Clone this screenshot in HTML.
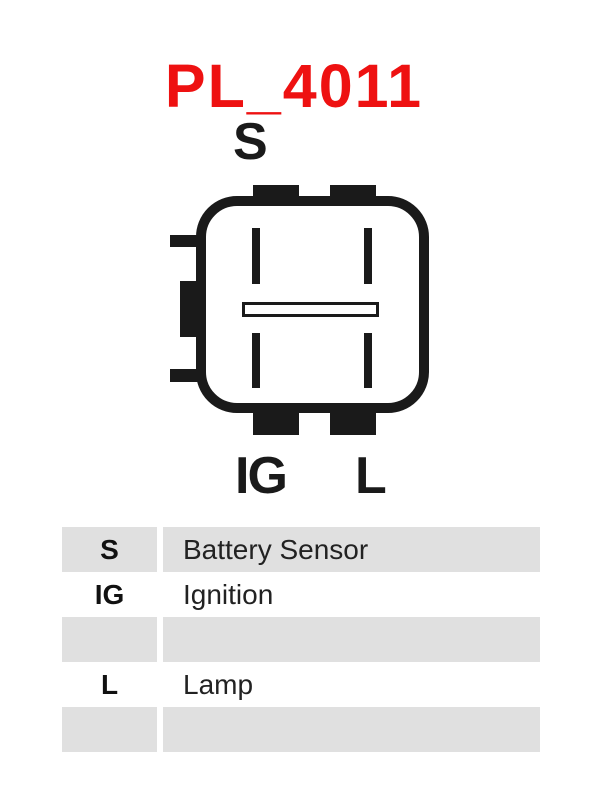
<!DOCTYPE html>
<html><head><style>
body{margin:0;width:600px;height:800px;background:#fff;position:relative;font-family:"Liberation Sans",sans-serif;overflow:hidden}
.t{position:absolute;white-space:nowrap}
.r{position:absolute;left:62px;width:478px;height:45px}
.c1{position:absolute;left:0;width:95px;height:45px;text-align:center;font-weight:bold;font-size:28px;line-height:45px;color:#111}
.c2{position:absolute;left:101px;width:377px;height:45px;font-size:28px;line-height:45px;color:#222;padding-left:20px;box-sizing:border-box}
.g .c1,.g .c2{background:#e0e0e0}
</style></head><body>
<div class="t" style="left:0;width:588px;text-align:center;top:51px;font-size:61px;letter-spacing:2px;font-weight:bold;color:#ee1111;line-height:70px">PL_4011</div>
<div class="t" style="left:233px;top:112px;font-size:52px;font-weight:bold;color:#1a1a1a;line-height:60px">S</div>
<div class="t" style="left:235px;top:446px;font-size:52px;font-weight:bold;color:#1a1a1a;line-height:60px;letter-spacing:-2px">IG</div>
<div class="t" style="left:355px;top:446px;font-size:52px;font-weight:bold;color:#1a1a1a;line-height:60px">L</div>
<svg style="position:absolute;left:0;top:0" width="600" height="800">
<g fill="#1a1a1a">
<rect x="253" y="185" width="46" height="16"/><rect x="330" y="185" width="46" height="16"/>
<rect x="253" y="408" width="46" height="27"/><rect x="330" y="408" width="46" height="27"/>
<rect x="170" y="235" width="32" height="12"/><rect x="170" y="369" width="32" height="13"/>
<rect x="180" y="281" width="22" height="56"/>
<rect x="252" y="228" width="8" height="56"/><rect x="252" y="333" width="8" height="55"/>
<rect x="364" y="228" width="8" height="56"/><rect x="364" y="333" width="8" height="55"/>
</g>
<rect x="201" y="201" width="223" height="207" rx="36" fill="none" stroke="#1a1a1a" stroke-width="10"/>
<rect x="243.5" y="303.5" width="134" height="12" fill="#fff" stroke="#1a1a1a" stroke-width="3"/>
</svg>
<div class="r g" style="top:527px"><div class="c1">S</div><div class="c2">Battery Sensor</div></div>
<div class="r" style="top:572px"><div class="c1">IG</div><div class="c2">Ignition</div></div>
<div class="r g" style="top:617px"><div class="c1"></div><div class="c2"></div></div>
<div class="r" style="top:662px"><div class="c1">L</div><div class="c2">Lamp</div></div>
<div class="r g" style="top:707px"><div class="c1"></div><div class="c2"></div></div>
</body></html>
